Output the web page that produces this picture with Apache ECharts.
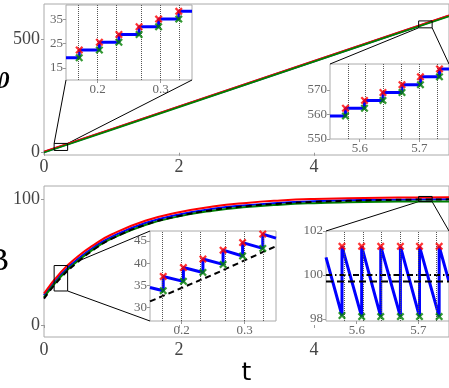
<!DOCTYPE html>
<html>
<head>
<meta charset="utf-8">
<script src="https://cdn.jsdelivr.net/npm/echarts@6/dist/echarts.min.js"></script>
<style>
html, body { margin: 0; padding: 0; background: #fff; }
#main { width: 449px; height: 388px; }
</style>
</head>
<body>
<div id="main"></div>
<script>
// top panel, main curves
var tMain = [0, 1, 2, 3, 4, 5, 6];
var phiGreen = [1, 101, 201, 301, 401, 501, 601];
var phiBlue = [3, 103, 203, 303, 403, 503, 603];
var phiRed = [5, 105, 205, 305, 405, 505, 605];

// bottom panel, main curves
var tB = [0, 0.25, 0.5, 0.75, 1, 1.5, 2, 2.5, 3, 3.5, 4, 4.5, 5, 5.5, 6];
var bMean = [21, 37.5, 50, 60.3, 68.3, 79.5, 86.5, 91.2, 94.3, 96.3, 97.7, 98.5, 99.1, 99.5, 99.7];
var bGreen = [22, 38.5, 50.8, 60.8, 68.5, 79.4, 86.2, 90.7, 93.6, 95.5, 96.7, 97.4, 97.8, 98, 98.1];
var bBlue = [23.5, 40, 52.3, 62.2, 70, 80.9, 87.7, 92.2, 95.1, 97, 98.2, 98.9, 99.3, 99.6, 99.7];
var bRed = [25, 42, 54.3, 64, 71.8, 82.7, 89.5, 94, 96.9, 98.8, 100, 100.6, 101, 101.2, 101.3];

// kick times (insets)
var kicksA = [0.171, 0.203, 0.234, 0.266, 0.297, 0.329];
var kicksB = [5.576, 5.608, 5.639, 5.671, 5.702, 5.734];

// phi around kicks
var phiPreA = [19.2, 22.4, 25.6, 28.8, 32.0, 35.2];
var phiPostA = [22.4, 25.6, 28.8, 32.0, 35.2, 38.4];
var phiPreB = [559.4, 562.5, 565.7, 568.9, 572.1, 575.3];
var phiPostB = [562.5, 565.7, 568.9, 572.1, 575.3, 578.5];

// B around kicks
var bPreA = [33.8, 35.9, 37.9, 39.7, 41.6, 43.3];
var bPostA = [37.0, 39.0, 40.9, 42.9, 44.6, 46.5];
var bEdgeA = [34.5, 45.6];
var tMeanA = [0.15, 0.2, 0.25, 0.3, 0.35];
var bMeanA = [31.4, 34.4, 37.4, 40.6, 43.8];
var bPreB = [98.15, 98.1, 98.1, 98.1, 98.1, 98.1];
var bPostB = [101.3, 101.3, 101.3, 101.3, 101.3, 101.3];
var bEdgeB = [100.8, 99.7];
var bMeanB = 99.7;
var bTargetB = 100;

// zoom windows [t0, t1, y0, y1]
var winTL = [0.15, 0.35, 10, 41];
var winTR = [5.55, 5.75, 550, 580.5];
var winBL = [0.15, 0.35, 27, 47.2];
var winBR = [5.55, 5.75, 97.9, 102];

var serif = "'Liberation Serif', 'DejaVu Serif', serif";
var xMark = 'path://M2,0L5,3L8,0L10,2L7,5L10,8L8,10L5,7L2,10L0,8L3,5L0,2Z';

function zip(a, b) {
    var out = [];
    for (var i = 0; i < a.length; i++) {
        out.push([a[i], b[i]]);
    }
    return out;
}

function stepData(win, kicks, pre, post) {
    var out = [[win[0], pre[0]]];
    for (var i = 0; i < kicks.length; i++) {
        out.push([kicks[i], post[i]]);
    }
    out.push([win[1], post[post.length - 1]]);
    return out;
}

function sawData(win, kicks, pre, post, edge) {
    var out = [[win[0], edge[0]]];
    for (var i = 0; i < kicks.length; i++) {
        out.push([kicks[i], pre[i]]);
        out.push([kicks[i], post[i]]);
    }
    out.push([win[1], edge[1]]);
    return out;
}

function boxData(w) {
    return [[w[0], w[2]], [w[1], w[2]], [w[1], w[3]], [w[0], w[3]], [w[0], w[2]]];
}

function axis(grid, min, max, vals, size, margin) {
    return {
        type: 'value',
        gridIndex: grid,
        min: min,
        max: max,
        axisLine: { show: false },
        splitLine: { show: false },
        axisTick: { show: true, length: 3, customValues: vals, lineStyle: { color: '#999' } },
        axisLabel: { customValues: vals, fontFamily: serif, fontSize: size, color: size > 14 ? '#444' : '#666', margin: margin }
    };
}

function line(idx, data, color, width, extra) {
    var s = {
        type: 'line',
        xAxisIndex: idx,
        yAxisIndex: idx,
        data: data,
        showSymbol: false,
        symbol: 'none',
        animation: false,
        lineStyle: { color: color, width: width }
    };
    for (var k in extra) {
        s[k] = extra[k];
    }
    return s;
}

function marks(idx, kicks, vals, color) {
    return {
        type: 'scatter',
        xAxisIndex: idx,
        yAxisIndex: idx,
        data: zip(kicks, vals),
        symbol: xMark,
        symbolSize: 8,
        animation: false,
        z: 5,
        itemStyle: { color: color }
    };
}

function kickLines(kicks) {
    return {
        silent: true,
        symbol: 'none',
        label: { show: false },
        animation: false,
        lineStyle: { type: 'dotted', color: '#555', width: 1 },
        data: kicks.map(function (k) { return { xAxis: k }; })
    };
}

function grid(l, t, w, h) {
    return { left: l, top: t, width: w, height: h, show: true, borderColor: '#aaa', borderWidth: 1, backgroundColor: '#fff' };
}

var chart = echarts.init(document.getElementById('main'));

var xAxes = [
    axis(0, 0, 6, [0, 2, 4], 18, 3),
    axis(1, winTL[0], winTL[1], [0.2, 0.3], 13, 3),
    axis(2, winTR[0], winTR[1], [5.6, 5.7], 13, 3),
    axis(3, 0, 6, [0, 2, 4], 18, 4),
    axis(4, winBL[0], winBL[1], [0.2, 0.3], 13, 3),
    axis(5, winBR[0], winBR[1], [5.6, 5.7], 13, 3)
];
xAxes[3].name = 't';
xAxes[3].nameLocation = 'middle';
xAxes[3].nameGap = 24;
xAxes[3].nameTextStyle = { fontFamily: 'DejaVu Sans', fontSize: 25, color: '#000' };

var yAxes = [
    axis(0, -10, 655, [0, 500], 18, 4),
    axis(1, winTL[2], winTL[3], [15, 25, 35], 13, 3),
    axis(2, winTR[2], winTR[3], [550, 560, 570], 13, 3),
    axis(3, -9.5, 110.3, [0, 100], 18, 4),
    axis(4, winBL[2], winBL[3], [30, 35, 40, 45], 13, 3),
    axis(5, winBR[2], winBR[3], [98, 100, 102], 13, 3)
];

var series = [
    // top main
    line(0, zip(tMain, phiBlue), '#0000ff', 2, {}),
    line(0, zip(tMain, phiRed), '#ff0000', 1.6, {}),
    line(0, zip(tMain, phiGreen), '#008000', 1.8, {}),
    line(0, boxData(winTL), '#000', 1, {}),
    line(0, boxData(winTR), '#000', 1, {}),

    // top-left inset
    line(1, stepData(winTL, kicksA, phiPreA, phiPostA), '#0000ff', 3, { step: 'end', markLine: kickLines(kicksA) }),
    marks(1, kicksA, phiPreA, '#008000'),
    marks(1, kicksA, phiPostA, '#ff0000'),

    // top-right inset
    line(2, stepData(winTR, kicksB, phiPreB, phiPostB), '#0000ff', 3, { step: 'end', markLine: kickLines(kicksB) }),
    marks(2, kicksB, phiPreB, '#008000'),
    marks(2, kicksB, phiPostB, '#ff0000'),

    // bottom main
    line(3, zip(tB, bBlue), '#0000ff', 2, { smooth: true }),
    line(3, zip(tB, bRed), '#ff0000', 2, { smooth: true }),
    line(3, zip(tB, bGreen), '#008000', 2, { smooth: true }),
    line(3, zip(tB, bMean), '#000', 2, { smooth: true, lineStyle: { color: '#000', width: 2, type: [6, 4] } }),
    line(3, boxData(winBL), '#000', 1, {}),
    line(3, boxData(winBR), '#000', 1, {}),

    // bottom-left inset
    line(4, sawData(winBL, kicksA, bPreA, bPostA, bEdgeA), '#0000ff', 3, { markLine: kickLines(kicksA) }),
    line(4, zip(tMeanA, bMeanA), '#000', 2, { lineStyle: { color: '#000', width: 2, type: [6, 4] } }),
    marks(4, kicksA, bPreA, '#008000'),
    marks(4, kicksA, bPostA, '#ff0000'),

    // bottom-right inset
    line(5, sawData(winBR, kicksB, bPreB, bPostB, bEdgeB), '#0000ff', 3, { markLine: kickLines(kicksB) }),
    line(5, [[winBR[0], bTargetB], [winBR[1], bTargetB]], '#000', 2, { lineStyle: { color: '#000', width: 2, type: [6, 3, 1.5, 3] } }),
    line(5, [[winBR[0], bMeanB], [winBR[1], bMeanB]], '#000', 2, { lineStyle: { color: '#000', width: 2, type: [7, 4] } }),
    marks(5, kicksB, bPreB, '#008000'),
    marks(5, kicksB, bPostB, '#ff0000')
];

chart.setOption({
    animation: false,
    grid: [
        grid(44, 4, 420, 151),
        grid(66, 5, 126, 75),
        grid(330, 64, 126, 75),
        grid(44, 186, 420, 151),
        grid(150, 231, 126, 90),
        grid(326, 231, 126, 90)
    ],
    xAxis: xAxes,
    yAxis: yAxes,
    series: series
});

// connector lines from zoom boxes to insets
function px(i, p) {
    return chart.convertToPixel({ xAxisIndex: i, yAxisIndex: i }, p);
}
var pairs = [
    [px(0, [winTL[0], winTL[3]]), px(1, [winTL[0], winTL[2]])],
    [px(0, [winTL[1], winTL[3]]), px(1, [winTL[1], winTL[2]])],
    [px(0, [winTR[0], winTR[2]]), px(2, [winTR[0], winTR[3]])],
    [px(0, [winTR[1], winTR[2]]), px(2, [winTR[1], winTR[3]])],
    [px(3, [winBL[1], winBL[3]]), px(4, [winBL[0], winBL[3]])],
    [px(3, [winBL[1], winBL[2]]), px(4, [winBL[0], winBL[2]])],
    [px(3, [winBR[0], winBR[2]]), px(5, [winBR[0], winBR[3]])],
    [px(3, [winBR[1], winBR[2]]), px(5, [winBR[1], winBR[3]])]
];
var graphics = pairs.map(function (p) {
    return {
        type: 'line',
        silent: true,
        z: 1,
        shape: { x1: p[0][0], y1: p[0][1], x2: p[1][0], y2: p[1][1] },
        style: { stroke: '#000', lineWidth: 1 }
    };
});
graphics.push({
    type: 'text', x: 10, y: 79, silent: true,
    style: { text: 'φ', fontFamily: serif, fontStyle: 'italic', fontSize: 34, fill: '#000', align: 'right', verticalAlign: 'middle' }
});
graphics.push({
    type: 'text', x: 9, y: 262, silent: true,
    style: { text: 'B', fontFamily: serif, fontSize: 32, fill: '#000', align: 'right', verticalAlign: 'middle' }
});
chart.setOption({ graphic: graphics });
</script>
</body>
</html>
